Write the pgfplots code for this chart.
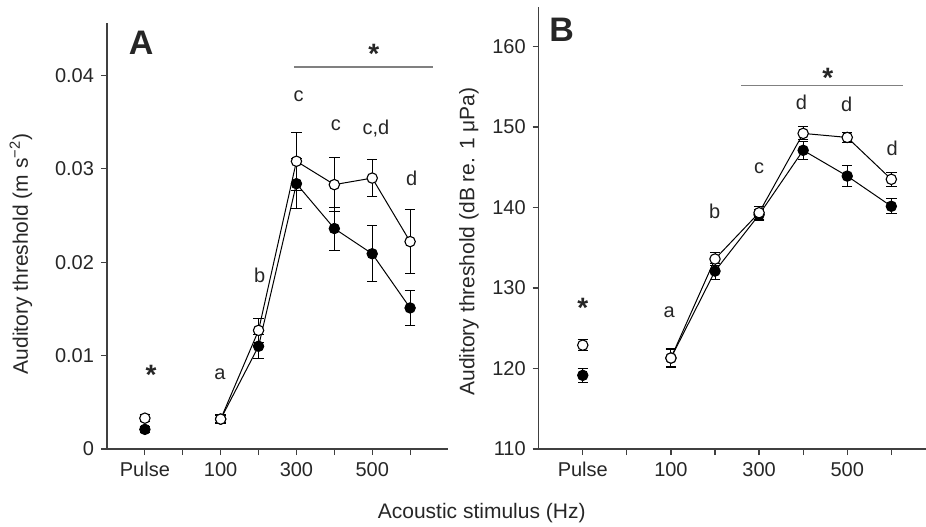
\documentclass[border=0pt]{standalone}
\usepackage{fontspec}
\setmainfont{Liberation Sans}
\usepackage{pgfplots}
\pgfplotsset{compat=1.18}

\definecolor{axgray}{HTML}{404040}
\definecolor{sigline}{HTML}{808080}

\pgfplotsset{
  panel/.style={
    scale only axis,
    anchor=south west,
    axis x line*=bottom,
    axis y line*=left,
    axis line style={axgray, line width=0.6pt},
    tick style={axgray, line width=0.6pt},
    tick align=outside,
    major tick length=3pt,
    xmin=-1,
    xtick={0,...,7},
    xticklabels={Pulse,,100,,300,,500,},
    tick label style={font=\fontsize{10}{12}\selectfont, text=black!85},
    /pgf/number format/assume math mode=true,
    clip=false,
  },
  errs/.style={
    error bars/y dir=both, error bars/y explicit,
    error bars/error bar style={line width=0.5pt},
    error bars/error mark options={rotate=90, mark size=2.6pt, line width=0.5pt},
  },
  closed/.style={black, line width=0.5pt, mark=*, mark size=2.6pt,
    mark options={fill=black, line width=0.5pt}, errs},
  open/.style={black, line width=0.5pt, mark=*, mark size=2.6pt,
    mark options={fill=white, line width=0.55pt}, errs},
}
\tikzset{
  lab/.style={font=\fontsize{10}{12}\selectfont, inner sep=0pt, anchor=base, text=black!85},
  star/.style={font=\fontsize{14}{14}\selectfont\bfseries, inner sep=0pt, anchor=north, text=black!85},
}

\begin{document}
\begin{tikzpicture}

% ---- panel A
\begin{axis}[panel,
  at={(53.5pt,38.5pt)},
  width=170.5pt, height=213pt,
  xmax=8,
  ymin=0, ymax=0.0456,
  ytick={0,0.01,0.02,0.03,0.04},
  yticklabels={0,0.01,0.02,0.03,0.04},
  scaled y ticks=false,
]
\addplot[closed] coordinates {(0,0.0021) +- (0,0.0003)};
\addplot[open] coordinates {(0,0.0033) +- (0,0.0004)};
\addplot[closed] coordinates {
  (2,0.0032) +- (0,0.0004)
  (3,0.0110) +- (0,0.0013)
  (4,0.0284) +- (0,0.0027)
  (5,0.0236) +- (0,0.0023)
  (6,0.0209) +- (0,0.0030)
  (7,0.0151) +- (0,0.0019)
};
\addplot[open] coordinates {
  (2,0.0032) +- (0,0.0005)
  (3,0.0127) +- (0,0.0013)
  (4,0.0308) +- (0,0.0031)
  (5,0.0283) +- (0,0.0029)
  (6,0.0290) +- (0,0.0020)
  (7,0.0222) +- (0,0.0034)
};
\node[font=\fontsize{17}{17}\selectfont\bfseries, inner sep=0pt, text=black!85] at (axis cs:-0.1,0.0435) {A};
\draw[sigline, line width=0.8pt] (axis cs:3.93,0.04086) -- (axis cs:7.6,0.04086);
\node[star] at (axis cs:6.04,0.04339) {*};
\node[lab] at (axis cs:4.06,0.03725) {c};
\node[lab] at (axis cs:5.04,0.03412) {c};
\node[lab] at (axis cs:6.1,0.03366) {c,d};
\node[lab] at (axis cs:7.04,0.02824) {d};
\node[lab] at (axis cs:3.03,0.01779) {b};
\node[lab] at (axis cs:1.98,0.00745) {a};
\node[star] at (axis cs:0.16,0.00898) {*};
\end{axis}

% ---- panel B
\begin{axis}[panel,
  at={(269.35pt,38.5pt)},
  width=193.5pt, height=221pt,
  xmax=7.78,
  ymin=110, ymax=164.9,
  ytick={110,120,...,160},
]
\addplot[closed] coordinates {(0,119.15) +- (0,0.9)};
\addplot[open] coordinates {(0,122.9) +- (0,0.7)};
\addplot[closed] coordinates {
  (2,121.3) +- (0,1.1)
  (3,132.1) +- (0,1.0)
  (4,139.1) +- (0,0.7)
  (5,147.1) +- (0,1.1)
  (6,143.9) +- (0,1.3)
  (7,140.15) +- (0,0.95)
};
\addplot[open] coordinates {
  (2,121.3) +- (0,1.2)
  (3,133.6) +- (0,0.8)
  (4,139.35) +- (0,0.8)
  (5,149.2) +- (0,0.8)
  (6,148.7) +- (0,0.6)
  (7,143.5) +- (0,0.9)
};
\node[font=\fontsize{17}{17}\selectfont\bfseries, inner sep=0pt, text=black!85] at (axis cs:-0.48,162.05) {B};
\draw[sigline, line width=0.8pt] (axis cs:3.6,155.13) -- (axis cs:7.26,155.13);
\node[star] at (axis cs:5.56,157.29) {*};
\node[lab] at (axis cs:4.96,152.11) {d};
\node[lab] at (axis cs:5.99,151.9) {d};
\node[lab] at (axis cs:7.02,146.4) {d};
\node[lab] at (axis cs:4.0,144.25) {c};
\node[lab] at (axis cs:2.99,138.66) {b};
\node[lab] at (axis cs:1.96,126.36) {a};
\node[star] at (axis cs:0.0,128.72) {*};
\end{axis}

% ---- shared labels
\node[rotate=90, font=\fontsize{10.5}{12}\selectfont, text=black!85] at (10.5pt,136pt) {Auditory threshold (m s\textsuperscript{−2})};
\node[rotate=90, font=\fontsize{10.5}{12}\selectfont, text=black!85] at (234.5pt,142.25pt) {Auditory threshold (dB re. 1 μPa)};
\node[font=\fontsize{10.5}{12}\selectfont, text=black!85] at (240.85pt,6.5pt) {Acoustic stimulus (Hz)};

\pgfresetboundingbox
\path[use as bounding box] (0,0) rectangle (463pt,263pt);
\end{tikzpicture}
\end{document}
